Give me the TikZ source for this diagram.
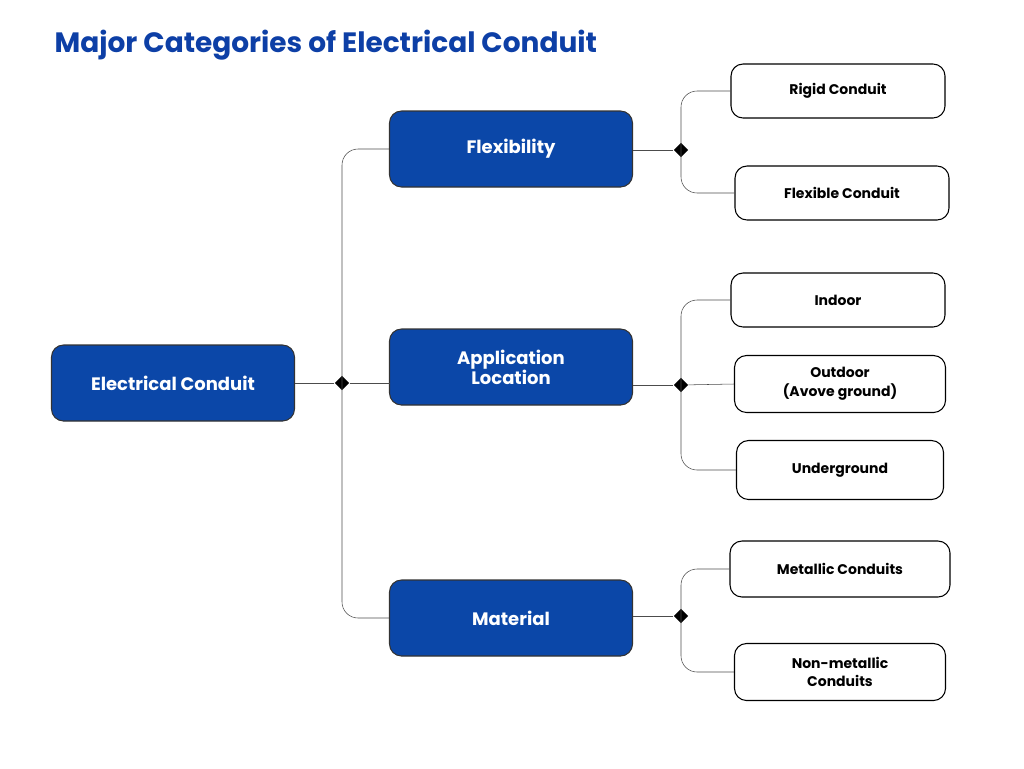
\documentclass[tikz,border=0pt]{standalone}
\usepackage{fontspec}
\setmainfont{Poppins}
\usetikzlibrary{shapes.geometric}
\definecolor{boxblue}{HTML}{0B47A8}
\definecolor{titleblue}{HTML}{0D3FA6}
\begin{document}
\begin{tikzpicture}[x=0.75pt,y=-0.75pt]
        \tikzstyle{branch}=[draw=black!80,thick,rounded corners=9pt,fill=boxblue,text=white,font=\bfseries\fontsize{13.5}{15}\selectfont,minimum width=243*0.75pt,minimum height=76*0.75pt,align=center]
        \tikzstyle{leaf}=[draw=black,thick,rounded corners=9pt,fill=white,font=\bfseries\fontsize{10.5}{14}\selectfont,minimum width=214*0.75pt,minimum height=54*0.75pt,align=center]
        \tikzstyle{joint}=[diamond,fill=black,minimum size=11pt,inner sep=0pt]
        \tikzstyle{wire}=[draw=black!70,rounded corners=12pt]

        \useasboundingbox (0,0) rectangle (1024,768);
        \node[anchor=base west,text=titleblue,font=\bfseries\fontsize{21}{24}\selectfont] (title) at (50,52) {Major Categories of Electrical Conduit};

        \node[branch] (root) at (173,383) {Electrical Conduit};
        \node[branch] (flex) at (511,149) {Flexibility};
        \node[branch] (loc) at (511,367) {Application\\Location};
        \node[branch] (mat) at (511,618) {Material};

        \node[leaf] (rigid) at (838,91) {Rigid Conduit};
        \node[leaf] (flexc) at (842,193) {Flexible Conduit};
        \node[leaf] (indoor) at (838,300) {Indoor};
        \node[leaf,minimum width=211*0.75pt,minimum height=57*0.75pt] (outdoor) at (840,384) {Outdoor\\(Avove ground)};
        \node[leaf,minimum width=207*0.75pt,minimum height=59*0.75pt] (under) at (840,470) {Underground};
        \node[leaf,minimum width=220*0.75pt,minimum height=56*0.75pt] (metal) at (840,569) {Metallic Conduits};
        \node[leaf,minimum width=211*0.75pt,minimum height=57*0.75pt] (nonmetal) at (840,672) {Non-metallic\\Conduits};

        \node[joint] (j0) at (342,383) {};
        \node[joint] (j1) at (681,150) {};
        \node[joint] (j2) at (681,385) {};
        \node[joint] (j3) at (681,616) {};

        \draw[wire] (root.east) -- (j0);
        \draw[wire] (j0) -- (390,383);
        \draw[wire] (flex.west) -| (j0.center) |- (mat.west);

        \draw[wire] (flex.east |- j1) -- (j1);
        \draw[wire] (rigid.west) -| (j1.center) |- (flexc.west);

        \draw[wire] (loc.east |- j2) -- (j2);
        \draw[wire] (j2) -- (outdoor.west);
        \draw[wire] (indoor.west) -| (j2.center) |- (under.west);

        \draw[wire] (mat.east |- j3) -- (j3);
        \draw[wire] (metal.west) -| (j3.center) |- (nonmetal.west);
\end{tikzpicture}
\end{document}
